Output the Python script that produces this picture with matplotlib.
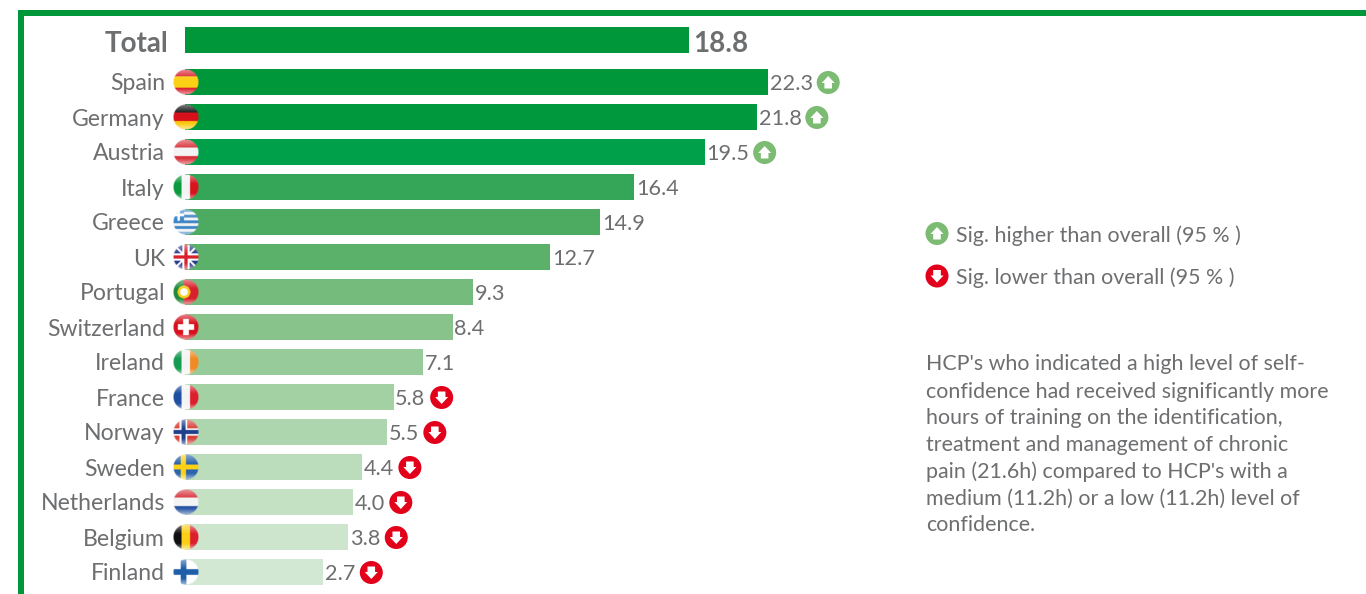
import matplotlib
matplotlib.use('Agg')
import matplotlib.pyplot as plt
import numpy as np
from matplotlib.patches import Circle, Polygon, Rectangle

plt.rcParams['font.family'] = ['Lato', 'DejaVu Sans']

total_label = 'Total'
total_value = 18.8
countries = ['Spain', 'Germany', 'Austria', 'Italy', 'Greece', 'UK', 'Portugal', 'Switzerland',
             'Ireland', 'France', 'Norway', 'Sweden', 'Netherlands', 'Belgium', 'Finland']
values = [22.3, 21.8, 19.5, 16.4, 14.9, 12.7, 9.3, 8.4, 7.1, 5.8, 5.5, 4.4, 4.0, 3.8, 2.7]
# 1 sig. higher, -1 sig. lower, 0 nothing
signif = [1, 1, 1, 0, 0, 0, 0, 0, 0, -1, -1, -1, -1, -1, -1]
bar_colors = ['#00963a', '#00983d', '#00a04a', '#35a657', '#4cab60', '#5cb16a', '#74bb7c', '#87c38b',
              '#97cb99', '#a3d1a4', '#aed6ae', '#bcddbc', '#c4e1c4', '#cde5cd', '#d2e8d2']
legend_labels = ['Sig. higher than overall (95 % )', 'Sig. lower than overall (95 % )']
note_lines = ["HCP's who indicated a high level of self-",
              'confidence had received significantly more',
              'hours of training on the identification,',
              'treatment and management of chronic',
              'pain (21.6h) compared to HCP\'s with a',
              'medium (11.2h) or a low (11.2h) level of',
              'confidence.']

GREY = '#6d6e70'
GREEN = '#00963a'
UP = '#7bbb72'
DOWN = '#e2001a'
W, H = 1366, 594
PX_PER_UNIT = 22.7  # bars are cut: value 0 would sit at x=262, bars start at 185
X_ZERO = 262
ROW_Y = 82
ROW_H = 35
BAR_LEFT = (185 - X_ZERO) / PX_PER_UNIT


def flag(name, n=64):
    y, x = np.mgrid[0:n, 0:n] / (n - 1.0)
    img = np.ones((n, n, 3))

    def c(h):
        return np.array(matplotlib.colors.to_rgb(h))

    def hstripes(cols, edges=None):
        edges = edges or [(i + 1) / len(cols) for i in range(len(cols))]
        lo = 0
        for col, hi in zip(cols, edges):
            img[(y >= lo) & (y <= hi)] = c(col)
            lo = hi

    def vstripes(cols):
        for i, col in enumerate(cols):
            img[(x >= i / len(cols)) & (x <= (i + 1) / len(cols))] = c(col)

    def cross(col, w, cx=0.4):
        img[(abs(x - cx) < w) | (abs(y - 0.5) < w)] = c(col)

    if name == 'Spain':
        hstripes(['#d8202c', '#fcd116', '#d8202c'], [0.27, 0.73, 1])
    elif name == 'Germany':
        hstripes(['#111111', '#d8101c', '#fbc90e'])
    elif name == 'Austria':
        hstripes(['#d8323a', '#f4f4f4', '#d8323a'])
    elif name == 'Italy':
        vstripes(['#0a9a3e', '#f4f4f4', '#d8141e'])
    elif name == 'Greece':
        hstripes(['#3d86c6', '#f4f4f4'] * 4 + ['#3d86c6'])
        img[(x < 0.42) & (y < 0.45)] = c('#3d86c6')
        img[((abs(x - 0.21) < 0.05) | (abs(y - 0.22) < 0.05)) & (x < 0.42) & (y < 0.45)] = 1
    elif name == 'UK':
        img[:] = c('#2a3a8c')
        d = (abs(x - y) < 0.06) | (abs(x + y - 1) < 0.06)
        img[d] = 1
        img[(abs(x - 0.5) < 0.14) | (abs(y - 0.5) < 0.14)] = 1
        img[(abs(x - 0.5) < 0.07) | (abs(y - 0.5) < 0.07)] = c('#d8202c')
    elif name == 'Portugal':
        img[:] = c('#d8202c')
        img[x < 0.4] = c('#1f8a3c')
        r = np.hypot(x - 0.42, y - 0.5)
        img[r < 0.25] = c('#f5d020')
        img[r < 0.15] = 1
    elif name == 'Switzerland':
        img[:] = c('#d8101c')
        img[((abs(x - 0.5) < 0.11) & (abs(y - 0.5) < 0.32)) | ((abs(y - 0.5) < 0.11) & (abs(x - 0.5) < 0.32))] = 1
    elif name == 'Ireland':
        vstripes(['#169b52', '#f4f4f4', '#f08a24'])
    elif name == 'France':
        vstripes(['#1f4fa0', '#f4f4f4', '#dc1f2c'])
    elif name == 'Norway':
        img[:] = c('#d8403a')
        cross('#ffffff', 0.15)
        cross('#1f3f8c', 0.08)
    elif name == 'Sweden':
        img[:] = c('#2a64ac')
        cross('#fcd116', 0.1)
    elif name == 'Netherlands':
        hstripes(['#d8323a', '#f4f4f4', '#2a55a5'])
    elif name == 'Belgium':
        vstripes(['#111111', '#fbd016', '#dc1f2c'])
    elif name == 'Finland':
        img[:] = 1
        cross('#1f5fa8', 0.11)

    # gloss on top, lighter bottom, round mask
    r = np.hypot(x - 0.5, y - 0.5)
    gloss = np.clip(0.8 - y * 2.2, 0, 0.8)[..., None]
    img = img * (1 - gloss * 0.6) + gloss * 0.6
    low = np.clip((y - 0.75) * 2.5, 0, 0.45)[..., None]
    img = img * (1 - low) + low
    alpha = np.clip((0.5 - r) * n / 1.5, 0, 1)
    return np.dstack([img, alpha])


def sig_marker(ax, cx, cy, direction, r=11.5):
    ax.add_patch(Circle((cx, cy), r, color=UP if direction > 0 else DOWN, lw=0, zorder=4))
    s = direction
    shape = [(-6.5, 0.5), (0, -6.5), (6.5, 0.5), (3.8, 0.5), (3.8, 6), (-3.8, 6), (-3.8, 0.5)]
    ax.add_patch(Polygon([(cx + a, cy + b * s) for a, b in shape], color='white', lw=0, zorder=5))


fig = plt.figure(figsize=(W / 100, H / 100), dpi=100)

# bars, in data units
ax = fig.add_axes([0, 0, 1, 1])
ax.set_xlim(-X_ZERO / PX_PER_UNIT, (W - X_ZERO) / PX_PER_UNIT)
ax.set_ylim((H - ROW_Y) / ROW_H, -ROW_Y / ROW_H)
ax.axis('off')
rows = np.arange(len(countries))
total_row = (40 - ROW_Y) / ROW_H
ax.barh(rows, np.array(values) - BAR_LEFT, left=BAR_LEFT, height=26 / ROW_H, color=bar_colors, lw=0)
ax.barh([total_row], [total_value - BAR_LEFT], left=BAR_LEFT, height=26 / ROW_H, color=GREEN, lw=0)

for r, (name, v) in enumerate(zip(countries, values)):
    ax.annotate(name, (BAR_LEFT, r), xytext=(-20 * 0.72, 0), textcoords='offset points', ha='right',
                va='center_baseline', fontsize=16.6, color=GREY)
    ax.annotate(f'{v:.1f}', (v, r), xytext=(1.2, 0), textcoords='offset points', ha='left',
                va='center_baseline', fontsize=15.6, color=GREY)
ax.annotate(total_label, (BAR_LEFT, total_row), xytext=(-12, -1), textcoords='offset points', ha='right',
            va='center_baseline', fontsize=20, fontweight='bold', color=GREY)
ax.annotate(f'{total_value:.1f}', (total_value, total_row), xytext=(3.5, -1), textcoords='offset points', ha='left',
            va='center_baseline', fontsize=20, fontweight='bold', color=GREY)

# overlay in pixels for flags, markers, frame and the side text
ov = fig.add_axes([0, 0, 1, 1])
ov.axis('off')
ov.patch.set_alpha(0)

for r, name in enumerate(countries):
    cy = ROW_Y + ROW_H * r
    ov.imshow(flag(name), extent=(172.5, 198.5, cy + 13, cy - 13), zorder=3, interpolation='bilinear')
    if signif[r] != 0:
        end = X_ZERO + values[r] * PX_PER_UNIT
        sig_marker(ov, end + (60 if values[r] >= 10 else 48), cy + 0.5, signif[r])
ov.set_xlim(0, W)
ov.set_ylim(H, 0)
ov.set_aspect('auto')

# frame, runs off the picture to the right and bottom
ov.add_patch(Rectangle((18, 10), W - 18, 5.5, color=GREEN, lw=0))
ov.add_patch(Rectangle((18, 10), 6, H - 10, color=GREEN, lw=0))

# legend
sig_marker(ov, 937, 233.5, 1)
sig_marker(ov, 937, 276, -1)
ov.text(956, 233.5, legend_labels[0], fontsize=15.4, color=GREY, va='center_baseline')
ov.text(956, 276, legend_labels[1], fontsize=15.4, color=GREY, va='center_baseline')

line_y = [362, 389.5, 416.5, 443, 470, 497, 523]
for ty, line in zip(line_y, note_lines):
    ov.text(926, ty, line, fontsize=15.4, color=GREY, va='center_baseline')

fig.savefig('out.png', dpi=100)
